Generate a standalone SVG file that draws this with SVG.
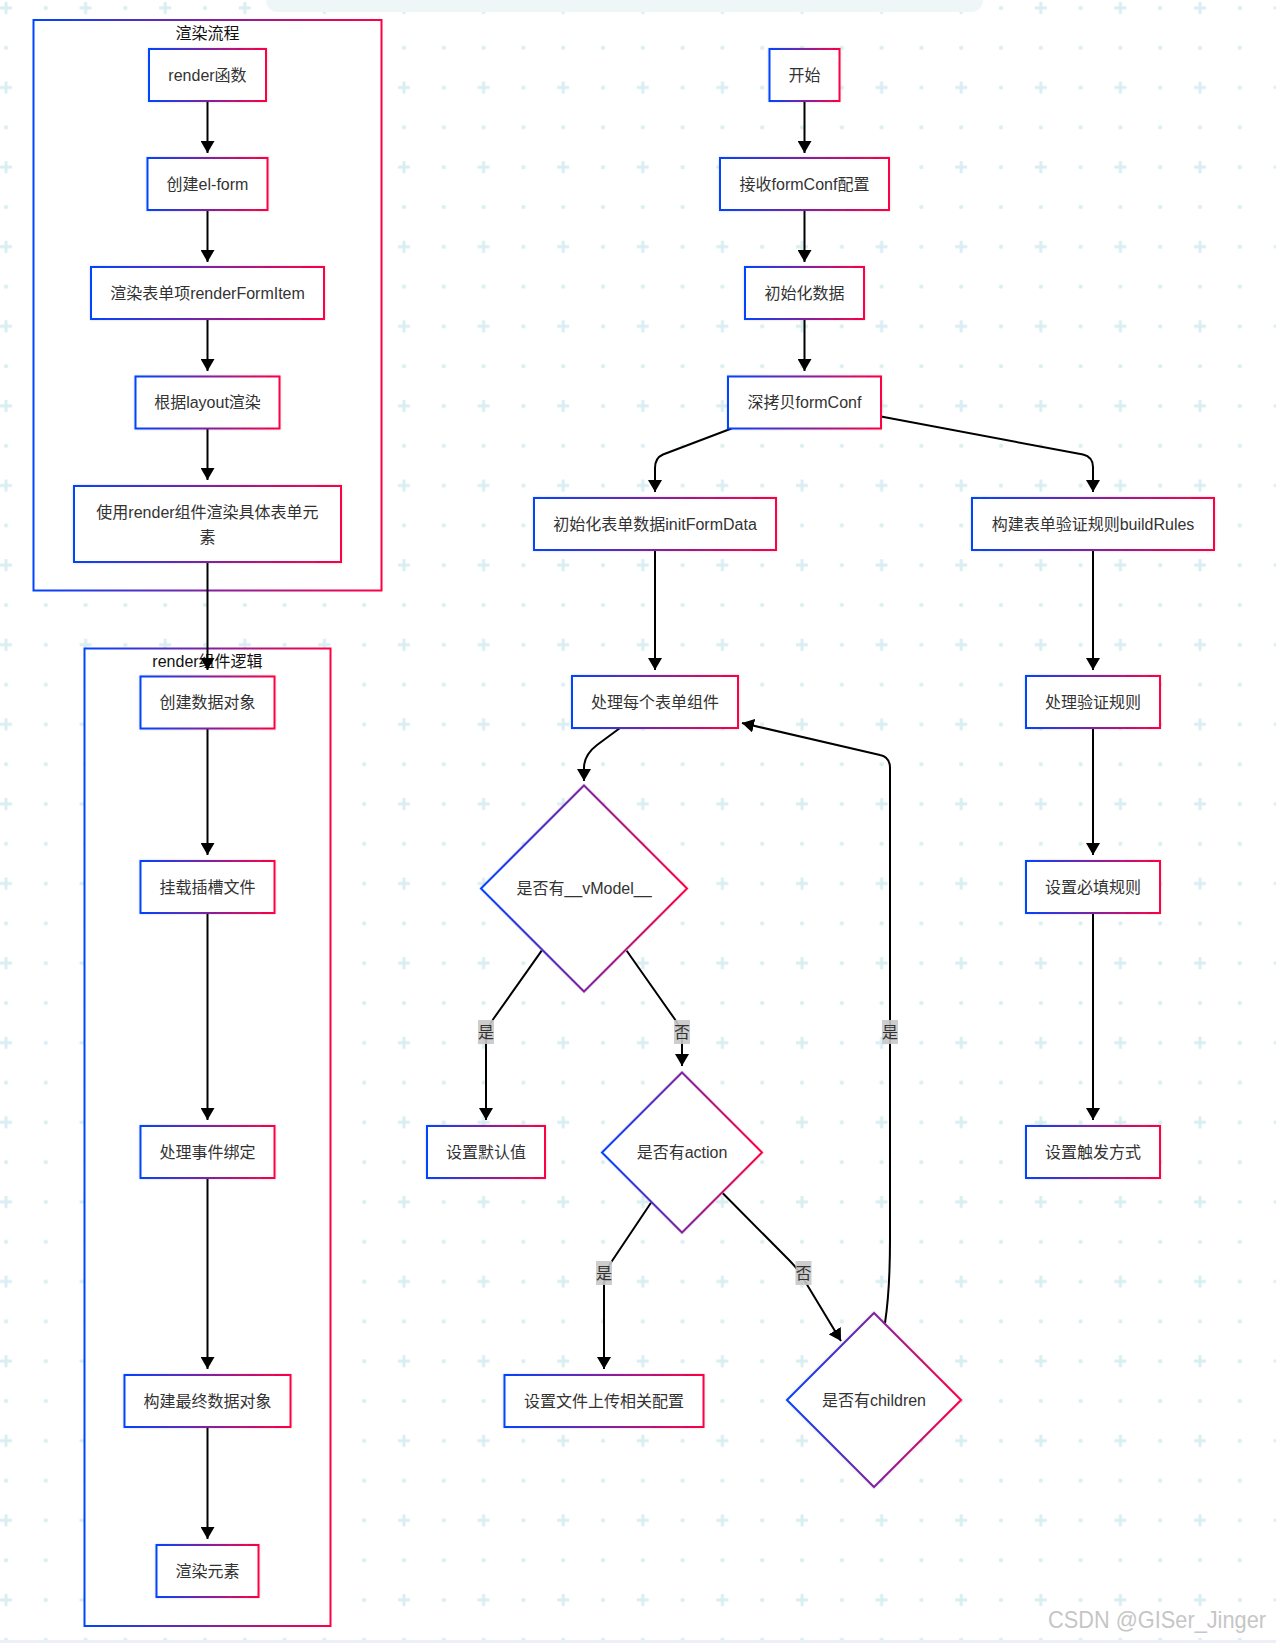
<svg xmlns="http://www.w3.org/2000/svg" width="1276" height="1643" viewBox="0 0 1276 1643">
<defs>
  <linearGradient id="grad" x1="0" y1="0" x2="1" y2="0">
    <stop offset="0" stop-color="#0044ff"/>
    <stop offset="1" stop-color="#ff0044"/>
  </linearGradient>
  <pattern id="grid" patternUnits="userSpaceOnUse" x="-14" y="-12" width="79.6" height="79.6">
    <path d="M14 20 H26 M20 14 V26" stroke="#d9eef2" stroke-width="3"/>
    <circle cx="59.8" cy="20" r="2.2" fill="#dbeff3"/>
    <circle cx="20" cy="59.8" r="2.2" fill="#dbeff3"/>
    <circle cx="59.8" cy="59.8" r="2.2" fill="#dbeff3"/>
  </pattern>
  <marker id="arr" viewBox="0 0 12 14" refX="12" refY="7" markerWidth="12" markerHeight="14" markerUnits="userSpaceOnUse" orient="auto">
    <path d="M0,0 L12,7 L0,14 z" fill="#000"/>
  </marker>
  <filter id="sh" x="-10%" y="-10%" width="120%" height="120%">
    <feDropShadow dx="0" dy="0" stdDeviation="1" flood-color="#000" flood-opacity="0.18"/>
  </filter>
  <style>
    .node rect, .node polygon { fill: #ffffff; stroke: url(#grad); stroke-width: 2; filter: url(#sh); }
    .cluster rect { fill: #ffffff; stroke: url(#grad); stroke-width: 2; }
    .lbl { font-family: "Liberation Sans", "Noto Sans CJK SC", sans-serif; font-size: 16px; fill: #333333; text-anchor: middle; dominant-baseline: central; }
    .ctitle { font-family: "Liberation Sans", "Noto Sans CJK SC", sans-serif; font-size: 16px; fill: #111111; text-anchor: middle; dominant-baseline: central; }
    .edge { fill: none; stroke: #000; stroke-width: 2; marker-end: url(#arr); }
    .elbg { fill: #c8c8c8; opacity: 0.9; }
    .eltx { font-family: "Liberation Sans", "Noto Sans CJK SC", sans-serif; font-size: 16px; fill: #333333; text-anchor: middle; dominant-baseline: central; }
  </style>
</defs>

<rect x="0" y="0" width="1276" height="1643" fill="#ffffff"/>
<rect x="0" y="0" width="1276" height="1643" fill="url(#grid)"/>
<rect x="266" y="-14" width="717" height="26" rx="12" fill="#eef6f8"/>
<rect x="0" y="1640" width="1276" height="3" fill="#eeeef8"/>

<g id="clusters">
  <g id="cluster-render-flow" class="cluster">
    <rect x="33.5" y="20" width="348" height="570.5"/>
    <text class="ctitle" x="207.5" y="33">渲染流程</text>
  </g>
  <g id="cluster-render-logic" class="cluster">
    <rect x="84.5" y="648.5" width="246" height="977.5"/>
    <text class="ctitle" x="207.5" y="661">render组件逻辑</text>
  </g>
</g>

<g id="connectors">
  <path class="edge" d="M207.5 101 V153"/>
  <path class="edge" d="M207.5 210 V262"/>
  <path class="edge" d="M207.5 319 V371"/>
  <path class="edge" d="M207.5 428.5 V480"/>
  <path class="edge" d="M207.5 562 V670"/>
  <path class="edge" d="M207.5 728 V855"/>
  <path class="edge" d="M207.5 913 V1120"/>
  <path class="edge" d="M207.5 1178 V1369"/>
  <path class="edge" d="M207.5 1427 V1539"/>

  <path class="edge" d="M804.5 101 V153"/>
  <path class="edge" d="M804.5 210 V262"/>
  <path class="edge" d="M804.5 319 V371"/>
  <path class="edge" d="M731.5 428.5 L663 454.5 Q655 458 655 468 L655 492"/>
  <path class="edge" d="M881 416.5 L1083 454.5 Q1093 457 1093 467 L1093 492"/>
  <path class="edge" d="M655 550 V670"/>
  <path class="edge" d="M1093 550 V670"/>
  <path class="edge" d="M1093 728 V855"/>
  <path class="edge" d="M1093 913 V1120"/>
  <path class="edge" d="M620 728 L597 745 Q584 755 584 768 L584 781"/>
  <path class="edge" d="M541.7 950.7 L494 1018 Q486 1029 486 1040 L486 1120"/>
  <path class="edge" d="M626.7 950.7 L674 1018 Q682 1029 682 1040 L682 1066"/>
  <path class="edge" d="M651 1202.7 L612 1261 Q604 1272 604 1284 L604 1369"/>
  <path class="edge" d="M722.8 1193.3 L790 1261 Q797 1268 803 1278 L841 1341"/>
  <path class="edge" d="M885 1323 Q890 1290 890 1240 L890 768 Q890 757 880 755 L742 723"/>

  <g id="edge-labels">
    <rect class="elbg" x="478" y="1020" width="16" height="24"/>
    <text class="eltx" x="486" y="1032">是</text>
    <rect class="elbg" x="674" y="1020" width="16" height="24"/>
    <text class="eltx" x="682" y="1032">否</text>
    <rect class="elbg" x="882" y="1020" width="16" height="24"/>
    <text class="eltx" x="890" y="1032">是</text>
    <rect class="elbg" x="596" y="1261" width="16" height="24"/>
    <text class="eltx" x="604" y="1273">是</text>
    <rect class="elbg" x="795.5" y="1261" width="16" height="24"/>
    <text class="eltx" x="803.5" y="1273">否</text>
  </g>
</g>

<g id="n-render" class="node"><rect x="149" y="49" width="117" height="52"/><text class="lbl" x="207.5" y="75">render函数</text></g>
<g id="n-elform" class="node"><rect x="147.5" y="158" width="120" height="52"/><text class="lbl" x="207.5" y="184">创建el-form</text></g>
<g id="n-formitem" class="node"><rect x="91" y="267" width="233" height="52"/><text class="lbl" x="207.5" y="293">渲染表单项renderFormItem</text></g>
<g id="n-layout" class="node"><rect x="135.5" y="376.5" width="144" height="52"/><text class="lbl" x="207.5" y="402.5">根据layout渲染</text></g>
<g id="n-usecomp" class="node"><rect x="74" y="486" width="267" height="76"/><text class="lbl" x="207.5" y="512">使用render组件渲染具体表单元</text><text class="lbl" x="207.5" y="537">素</text></g>
<g id="n-dataobj" class="node"><rect x="140.5" y="676.5" width="134" height="52"/><text class="lbl" x="207.5" y="702.5">创建数据对象</text></g>
<g id="n-slot" class="node"><rect x="140.5" y="861" width="134" height="52"/><text class="lbl" x="207.5" y="887">挂载插槽文件</text></g>
<g id="n-event" class="node"><rect x="140.5" y="1126" width="134" height="52"/><text class="lbl" x="207.5" y="1152">处理事件绑定</text></g>
<g id="n-final" class="node"><rect x="124.5" y="1375" width="166" height="52"/><text class="lbl" x="207.5" y="1401">构建最终数据对象</text></g>
<g id="n-renderel" class="node"><rect x="156.5" y="1545" width="102" height="52"/><text class="lbl" x="207.5" y="1571">渲染元素</text></g>

<g id="n-start" class="node"><rect x="769.5" y="49" width="70" height="52"/><text class="lbl" x="804.5" y="75">开始</text></g>
<g id="n-receive" class="node"><rect x="720" y="158" width="169" height="52"/><text class="lbl" x="804.5" y="184">接收formConf配置</text></g>
<g id="n-initdata" class="node"><rect x="745" y="267" width="119" height="52"/><text class="lbl" x="804.5" y="293">初始化数据</text></g>
<g id="n-deepcopy" class="node"><rect x="728" y="376.5" width="153" height="52"/><text class="lbl" x="804.5" y="402.5">深拷贝formConf</text></g>
<g id="n-initform" class="node"><rect x="534" y="498" width="242" height="52"/><text class="lbl" x="655" y="524">初始化表单数据initFormData</text></g>
<g id="n-buildrules" class="node"><rect x="972" y="498" width="242" height="52"/><text class="lbl" x="1093" y="524">构建表单验证规则buildRules</text></g>
<g id="n-each" class="node"><rect x="572" y="676" width="166" height="52"/><text class="lbl" x="655" y="702">处理每个表单组件</text></g>
<g id="n-rules" class="node"><rect x="1026" y="676" width="134" height="52"/><text class="lbl" x="1093" y="702">处理验证规则</text></g>
<g id="n-required" class="node"><rect x="1026" y="861" width="134" height="52"/><text class="lbl" x="1093" y="887">设置必填规则</text></g>
<g id="n-trigger" class="node"><rect x="1026" y="1126" width="134" height="52"/><text class="lbl" x="1093" y="1152">设置触发方式</text></g>
<g id="n-vmodel" class="node"><polygon points="584,785.5 687,888.5 584,991.5 481,888.5"/><text class="lbl" x="584" y="888">是否有__vModel__</text></g>
<g id="n-default" class="node"><rect x="427" y="1126" width="118" height="52"/><text class="lbl" x="486" y="1152">设置默认值</text></g>
<g id="n-action" class="node"><polygon points="682,1072.5 762,1152.5 682,1232.5 602,1152.5"/><text class="lbl" x="682" y="1152">是否有action</text></g>
<g id="n-upload" class="node"><rect x="504.5" y="1375" width="199" height="52"/><text class="lbl" x="604" y="1401">设置文件上传相关配置</text></g>
<g id="n-children" class="node"><polygon points="874,1313 961,1400 874,1487 787,1400"/><text class="lbl" x="874" y="1400">是否有children</text></g>

<text x="1266" y="1628" text-anchor="end" font-family="Liberation Sans, sans-serif" font-size="24" fill="#c6c6c6" textLength="218" lengthAdjust="spacingAndGlyphs">CSDN @GISer_Jinger</text>
</svg>
